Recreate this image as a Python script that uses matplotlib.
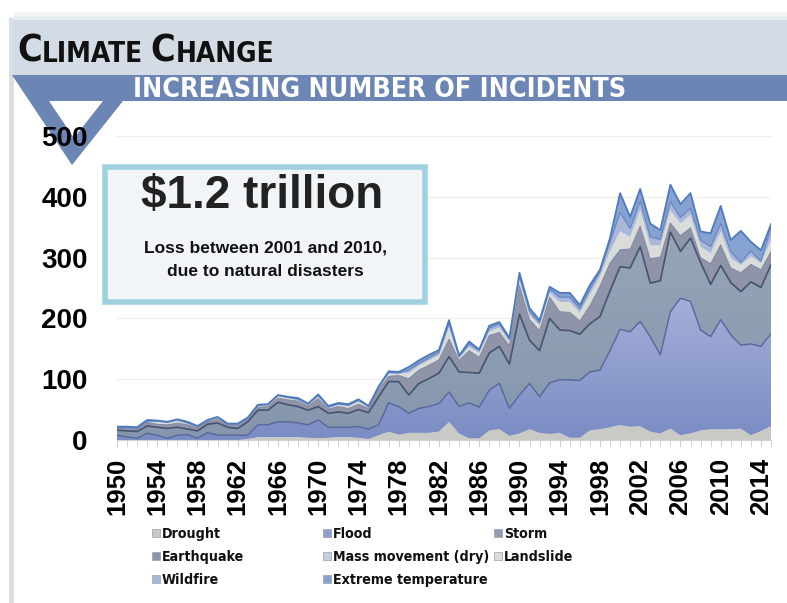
import matplotlib
matplotlib.use('Agg')
import matplotlib.pyplot as plt
from matplotlib.patches import Polygon, Rectangle
from matplotlib.colors import LinearSegmentedColormap
from matplotlib import font_manager as fm
import numpy as np

# data (incidents per year, stacked)
years = list(range(1950, 2016))
drought = [0, 0, 0, 0, 0, 0, 0, 0, 0, 0,
           0, 0, 0, 2, 5, 5, 5, 5, 5, 4,
           3, 4, 5, 5, 4, 2, 8, 14, 9, 12,
           12, 12, 14, 30, 11, 3, 3, 16, 18, 7,
           11, 18, 12, 10, 12, 4, 4, 16, 18, 21,
           25, 22, 23, 14, 11, 19, 8, 11, 16, 18,
           18, 18, 19, 8, 15, 23]
flood = [8, 5, 3, 11, 8, 3, 8, 9, 3, 12,
         8, 8, 8, 6, 20, 20, 25, 25, 23, 21,
         30, 17, 16, 16, 18, 16, 17, 47, 46, 32,
         40, 43, 46, 49, 44, 58, 51, 66, 75, 45,
         63, 75, 59, 84, 87, 95, 94, 96, 97, 126,
         157, 156, 172, 156, 129, 192, 225, 217, 165, 152,
         180, 155, 137, 150, 139, 152]
storm = [8, 10, 11, 12, 13, 16, 13, 9, 12, 14,
         20, 13, 11, 22, 24, 24, 32, 28, 27, 24,
         22, 23, 25, 23, 28, 27, 46, 35, 41, 30,
         41, 46, 50, 58, 57, 50, 56, 61, 61, 73,
         133, 71, 76, 106, 82, 81, 76, 79, 88, 98,
         103, 105, 123, 88, 122, 131, 77, 104, 111, 86,
         89, 86, 88, 102, 97, 113]
earthquake = [3, 4, 4, 6, 5, 6, 7, 7, 5, 4,
              6, 4, 5, 4, 5, 6, 7, 8, 9, 7,
              13, 7, 9, 8, 9, 7, 11, 9, 10, 27,
              22, 22, 22, 29, 19, 36, 26, 29, 23, 30,
              47, 34, 33, 35, 30, 30, 22, 30, 50, 46,
              28, 31, 34, 40, 39, 15, 26, 17, 8, 34,
              34, 24, 31, 29, 29, 22]
mass_movement = [0, 0, 0, 0, 1, 0, 1, 0, 0, 0,
                 0, 0, 0, 0, 0, 0, 1, 0, 0, 0,
                 1, 0, 0, 1, 1, 0, 0, 1, 0, 1,
                 1, 1, 1, 1, 1, 1, 1, 1, 1, 1,
                 1, 1, 1, 1, 1, 1, 1, 1, 2, 2,
                 2, 2, 2, 2, 2, 2, 2, 2, 2, 2,
                 2, 2, 2, 2, 2, 2]
landslide = [1, 1, 1, 1, 3, 3, 3, 2, 1, 1,
             2, 1, 1, 1, 2, 2, 2, 3, 2, 2,
             3, 2, 3, 3, 4, 2, 3, 3, 3, 8,
             6, 7, 7, 18, 3, 5, 6, 5, 7, 6,
             8, 7, 7, 6, 15, 16, 12, 17, 14, 17,
             28, 18, 24, 20, 17, 19, 18, 19, 16, 15,
             20, 14, 11, 11, 9, 17]
wildfire = [0, 1, 0, 1, 1, 1, 1, 1, 1, 1,
            1, 0, 1, 1, 1, 1, 1, 1, 1, 1,
            1, 1, 1, 1, 1, 1, 1, 2, 1, 5,
            4, 4, 4, 7, 2, 5, 4, 6, 6, 4,
            7, 5, 5, 6, 8, 8, 7, 9, 8, 16,
            31, 14, 15, 14, 10, 14, 10, 11, 11, 11,
            13, 11, 4, 9, 3, 20]
extreme_temp = [2, 1, 2, 2, 1, 1, 1, 2, 1, 1,
                1, 1, 1, 1, 1, 1, 1, 1, 2, 1,
                2, 2, 2, 2, 2, 1, 2, 2, 2, 5,
                5, 5, 4, 5, 2, 4, 2, 4, 3, 2,
                5, 6, 4, 4, 7, 7, 6, 7, 3, 6,
                32, 19, 20, 22, 15, 28, 22, 25, 14, 22,
                29, 19, 52, 15, 18, 6]

labels = ['Drought', 'Flood', 'Storm', 'Earthquake', 'Mass movement (dry)',
          'Landslide', 'Wildfire', 'Extreme temperature']
colors = ['#c9c9c6', '#8e9ecb', '#8d9db2', '#8f94a8', '#c3cee2',
          '#dadcd8', '#a9b8da', '#86a2d0']
series = [drought, flood, storm, earthquake, mass_movement,
          landslide, wildfire, extreme_temp]

yticks = [0, 100, 200, 300, 400, 500]
xticks = list(range(1950, 2015, 4))


def find_narrow():
    # look for any installed condensed / narrow bold face
    best = None
    for f in fm.fontManager.ttflist:
        key = (f.name + ' ' + f.fname + ' ' + str(f.stretch)).lower()
        if 'narrow' not in key and 'condensed' not in key:
            continue
        w = f.weight if isinstance(f.weight, int) else fm.weight_dict.get(f.weight, 400)
        if 'italic' in f.fname.lower() or f.style != 'normal':
            continue
        score = -abs(w - 700)
        if 'liberation' in key or 'arial' in key:
            score += 50
        if best is None or score > best[0]:
            best = (score, f.fname)
    return best[1] if best else None


narrow_file = find_narrow()


def nfont():
    if narrow_file:
        return fm.FontProperties(fname=narrow_file)
    return fm.FontProperties(family='Liberation Sans', weight='bold')


W, H = 787, 603
fig = plt.figure(figsize=(W / 100, H / 100), dpi=100)
renderer = fig.canvas.get_renderer()

# background decoration, pixel coordinates
bg = fig.add_axes([0, 0, 1, 1], zorder=0)
bg.set_xlim(0, W)
bg.set_ylim(H, 0)
bg.axis('off')
bg.add_patch(Rectangle((14, 12), W - 14, 4, color='#f3f5f7', lw=0))
bg.add_patch(Rectangle((14, 16), W - 14, 4, color='#e6ebef', lw=0))
bg.add_patch(Rectangle((14, 20), W - 14, 55, color='#d3dce4', lw=0))
bg.add_patch(Rectangle((9, 18), 5, H - 18, color='#d8dee4', lw=0))
bg.add_patch(Polygon([(12, 75), (W, 75), (W, 101), (123, 101), (72, 165)],
                     closed=True, color='#6b85b4', lw=0))
bg.add_patch(Polygon([(49, 101), (103, 101), (74, 138)], closed=True,
                     color='white', lw=0))


def right_edge(t):
    return bg.transData.inverted().transform(
        t.get_window_extent(renderer).get_points())[1][0]


def fit_width(t, target):
    w = t.get_window_extent(renderer).width
    t.set_fontsize(t.get_fontsize() * target / w)


# small-caps title, stretched to the reference width
parts = []
x = 17
for word in ['CLIMATE', 'CHANGE']:
    t1 = bg.text(x, 62, word[0], fontproperties=nfont(), fontsize=27,
                 color='#111111', va='baseline', ha='left')
    x = right_edge(t1)
    t2 = bg.text(x, 62, word[1:], fontproperties=nfont(), fontsize=20,
                 color='#111111', va='baseline', ha='left')
    x = right_edge(t2) + 8
    parts += [t1, t2]
scale = (305 - 17) / (x - 8 - 17)
x = 17
for t in parts:
    t.set_fontsize(t.get_fontsize() * min(scale, 1.0))
    t.set_x(x)
    x = right_edge(t)
    if t is parts[1]:
        x += 8 * min(scale, 1.0)

sub = bg.text(133, 97, 'INCREASING NUMBER OF INCIDENTS', fontproperties=nfont(),
              fontsize=19, color='white', va='baseline', ha='left')
fit_width(sub, 489)

# chart
ax = fig.add_axes([117 / W, 1 - 440 / H, (771 - 117) / W, (440 - 136) / H],
                  zorder=1)
ax.patch.set_alpha(0)
polys = ax.stackplot(years, *series, colors=colors, labels=labels, linewidth=0)

# flood layer is shaded lighter towards the top
flood_cmap = LinearSegmentedColormap.from_list('fl', ['#7a8cc4', '#a6b0d8'])
grad = np.linspace(0, 1, 256).reshape(-1, 1)
im = ax.imshow(grad, extent=[1950, 2015, 0, 240], origin='lower',
               aspect='auto', cmap=flood_cmap, zorder=1.5)
im.set_clip_path(polys[1].get_paths()[0], transform=ax.transData)
storm_cmap = LinearSegmentedColormap.from_list('st', ['#8596ad', '#97a5b8'])
im2 = ax.imshow(grad, extent=[1950, 2015, 0, 350], origin='lower',
                aspect='auto', cmap=storm_cmap, zorder=1.5)
im2.set_clip_path(polys[2].get_paths()[0], transform=ax.transData)

tops = np.cumsum(np.array(series), axis=0)
ax.plot(years, tops[1], color='#56689a', lw=1.0)
ax.plot(years, tops[2], color='#45546f', lw=1.2)
ax.plot(years, tops[3], color='#7d8398', lw=0.6)
ax.plot(years, tops[6], color='#6787c0', lw=0.9)
ax.plot(years, tops[7], color='#4f7bbd', lw=1.3)

ax.set_xlim(1950, 2015)
ax.set_ylim(0, 500)
ax.set_yticks(yticks)
ax.set_yticklabels([str(v) for v in yticks], fontsize=20, weight='bold',
                   family='Liberation Sans')
ax.set_xticks(xticks)
ax.set_xticklabels([str(v) for v in xticks], fontsize=18.5, weight='bold',
                   family='Liberation Sans', rotation=90)
ax.set_xticks(years, minor=True)
ax.tick_params(axis='y', length=0, pad=21)
ax.tick_params(axis='x', which='both', length=5, color='#cfcfcf', pad=8)
ax.grid(axis='y', color='#f1ece8', lw=0.8)
ax.set_axisbelow(True)
for side in ['top', 'left', 'right']:
    ax.spines[side].set_visible(False)
ax.spines['bottom'].set_color('#d0d0d0')

# legend, three columns filled row by row
leg_texts = []
for i, (lab, col) in enumerate(zip(labels, colors)):
    lx = 156 + 171 * (i % 3)
    ly = 533 + 23 * (i // 3)
    bg.add_patch(Rectangle((lx - 4, ly - 4), 8, 8, facecolor=col,
                           edgecolor='#9aa0aa', lw=0.5))
    leg_texts.append(bg.text(lx + 6, ly + 5, lab, fontproperties=nfont(),
                             fontsize=12, color='#111111', va='baseline',
                             ha='left'))
w_ref = leg_texts[7].get_window_extent(renderer).width
for t in leg_texts:
    t.set_fontsize(12 * 155 / w_ref)

# callout box on top of the chart
top = fig.add_axes([0, 0, 1, 1], zorder=3)
top.set_xlim(0, W)
top.set_ylim(H, 0)
top.axis('off')
top.add_patch(Rectangle((105, 167), 320, 135, facecolor='#f2f5f8',
                        edgecolor='#9fd0e0', lw=4))
top.text(262, 196, '$1.2 trillion', fontsize=33, weight='bold',
         family='Liberation Sans', color='#222222', ha='center', va='center')
top.text(265, 248, 'Loss between 2001 and 2010,', fontsize=12.5,
         weight='bold', family='Liberation Sans', color='#111111',
         ha='center', va='center')
top.text(265, 272, 'due to natural disasters', fontsize=12.5, weight='bold',
         family='Liberation Sans', color='#111111', ha='center', va='center')

fig.savefig('out.png', dpi=100)
